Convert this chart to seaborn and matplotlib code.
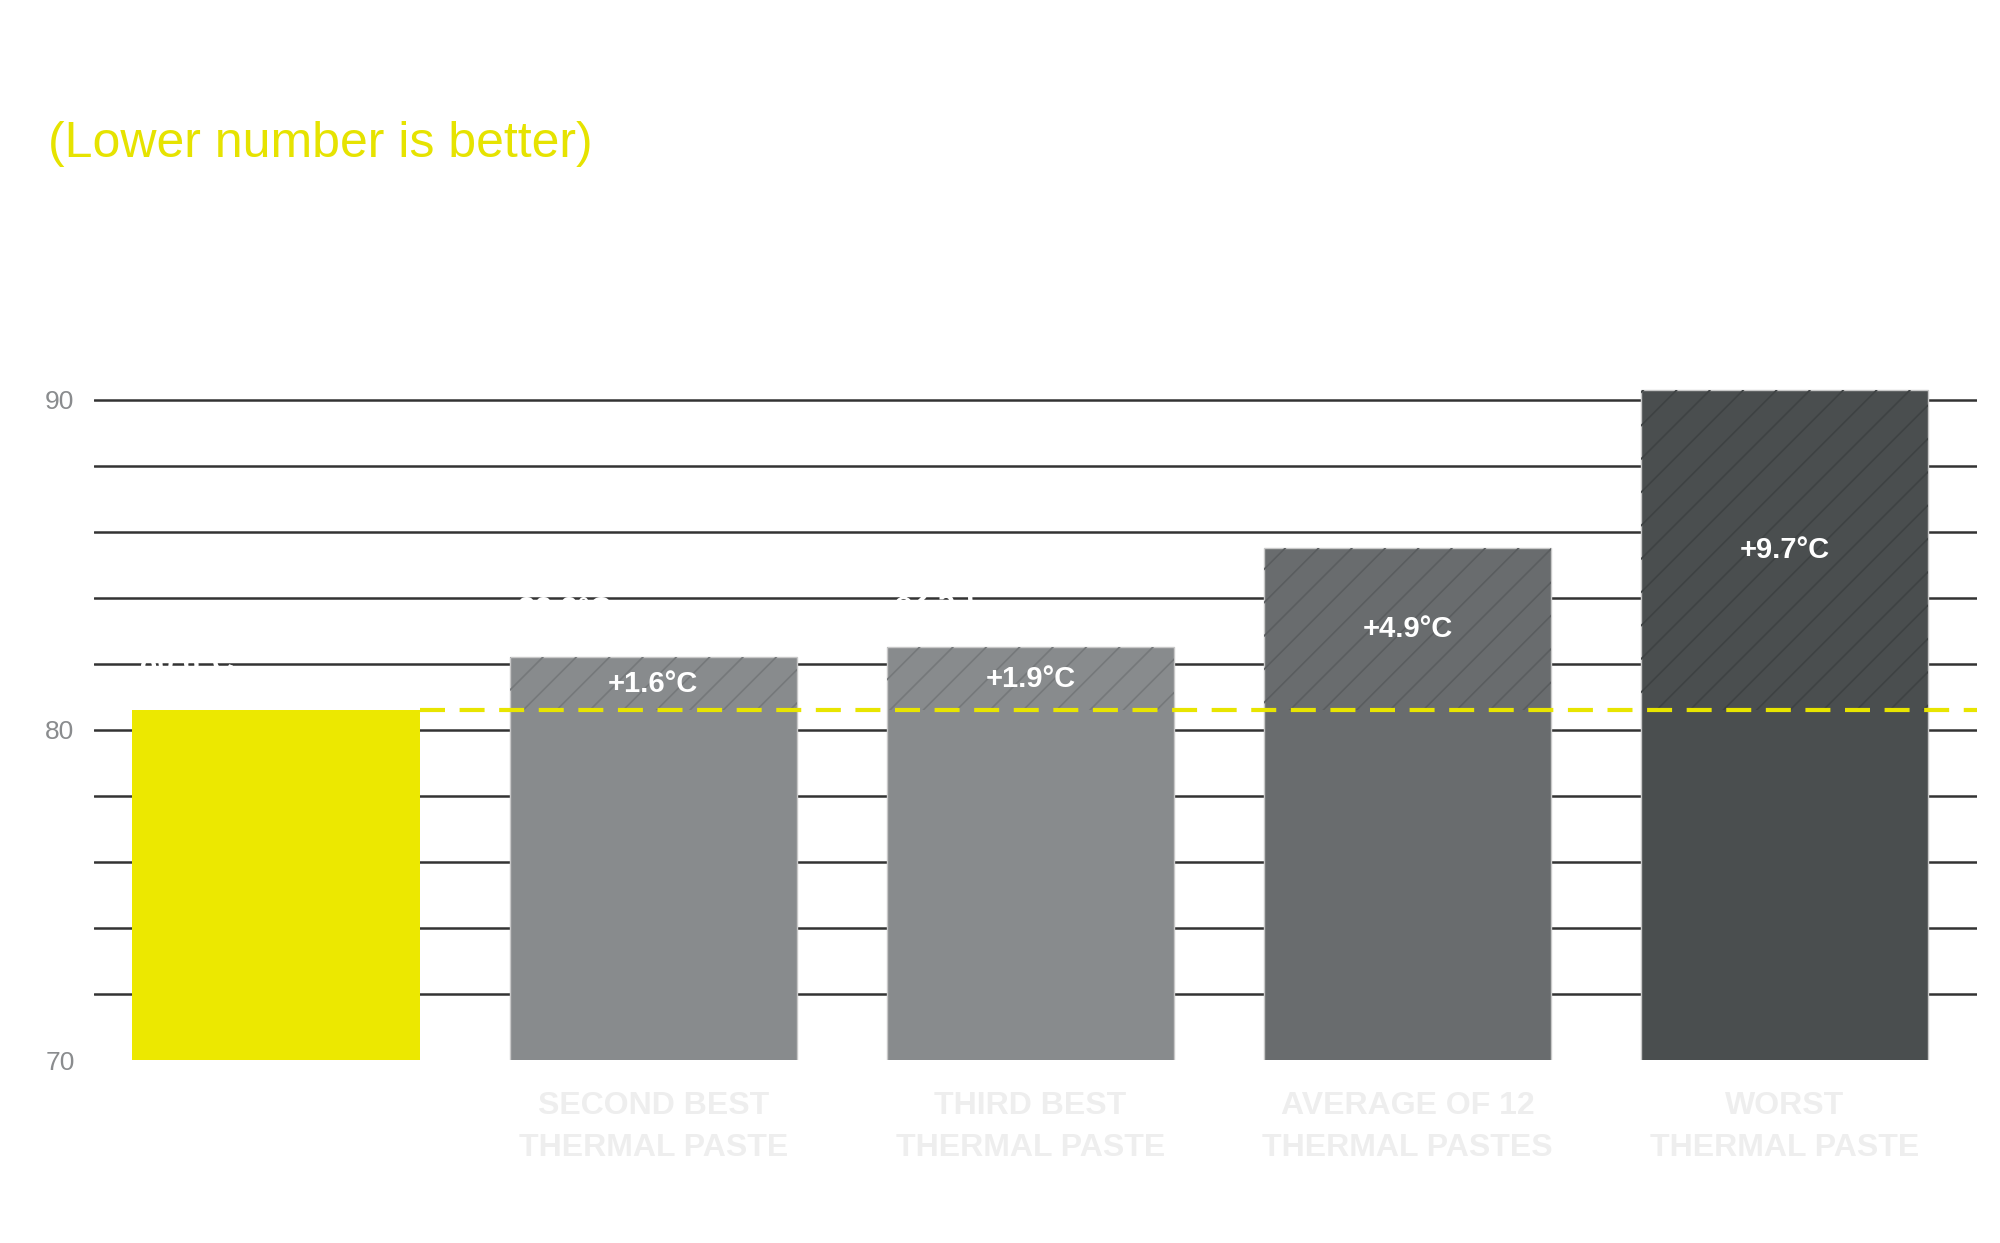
import numpy as np
import pandas as pd
import matplotlib
matplotlib.use("Agg")
import matplotlib.pyplot as plt
import seaborn as sns

# ---- data ----
categories = ["BEST\nTHERMAL PASTE", "SECOND BEST\nTHERMAL PASTE", "THIRD BEST\nTHERMAL PASTE",
              "AVERAGE OF 12\nTHERMAL PASTES", "WORST\nTHERMAL PASTE"]
temps = [80.6, 82.2, 82.5, 85.5, 90.3]
baseline = 80.6
deltas = ["", "+1.6°C", "+1.9°C", "+4.9°C", "+9.7°C"]
value_labels = ["80.6°C", "82.2°C", "82.5°C", "85.5°C", "90.3°C"]
ytick_vals = [70, 80, 90]
ytick_labels = ["70", "80", "90"]
subtitle = "(Lower number is better)"

bar_colors = ["#ECE800", "#888B8D", "#888B8D", "#696C6E", "#4A4E4F"]
hatch_colors = ["#ECE800", "#75787A", "#75787A", "#5A5D5F", "#3E4243"]
label_colors = ["#FFFFFF", "#EEEEEE", "#EEEEEE", "#EEEEEE", "#EEEEEE"]

sns.set_theme(style="white")
plt.rcParams["font.family"] = ["Liberation Sans", "DejaVu Sans"]
plt.rcParams["hatch.linewidth"] = 0.6

fig = plt.figure(figsize=(10, 6.215), dpi=200)
ax = fig.add_axes([0.047, 0.147, 0.9415, 0.558])

df = pd.DataFrame({"cat": categories, "temp": temps})
sns.barplot(data=df, x="cat", y="temp", hue="cat", palette=bar_colors,
            legend=False, width=0.762, saturation=1, ax=ax, zorder=3,
            bottom=0)

# gray bars get a faint light edge
for i, p in enumerate(ax.patches):
    if i > 0:
        p.set_edgecolor("#C8C8C8")
        p.set_linewidth(0.5)
    else:
        p.set_linewidth(0)

ax.set_ylim(70, 91)
ax.set_xlim(-0.483, 4.51)

# hatched overlay for the difference above the best result
x = np.arange(len(categories))
diff = [t - baseline for t in temps]
for i in range(1, len(categories)):
    ax.bar(x[i], diff[i], bottom=baseline, width=0.762, fill=False,
           hatch="//", edgecolor=hatch_colors[i], linewidth=0, zorder=4)
    ax.text(x[i], baseline + diff[i] / 2, deltas[i], ha="center", va="center",
            color="white", fontsize=10.5, fontweight="bold", zorder=6)

# white value labels above bars (left aligned at the bar edge)
for i in range(len(categories)):
    ax.text(x[i] - 0.36, temps[i] + 1.4, value_labels[i], ha="left", va="center",
            color="white", fontsize=11, fontweight="bold", zorder=6)

# dashed yellow reference line
ax.plot([x[0] + 0.381, 4.51], [baseline, baseline], color="#E8E500",
        lw=1.5, dashes=(6, 3.5), zorder=5)

# gridlines
ax.set_yticks(ytick_vals)
ax.set_yticklabels(ytick_labels)
ax.set_yticks(np.arange(72, 91, 2), minor=True)
ax.yaxis.remove_overlapping_locs = False
ax.grid(False)
ax.yaxis.grid(True, which="minor", color="#333333", lw=0.9, zorder=0)
ax.set_axisbelow(True)

for s in ax.spines.values():
    s.set_visible(False)

ax.tick_params(axis="y", which="both", length=0, pad=7, labelsize=9.5, labelcolor="#8A8C8E")
ax.tick_params(axis="x", length=0, pad=11)
ax.set_xticks(x)
ax.set_xticklabels(categories, fontsize=11.5, fontweight="bold", linespacing=1.55)
for lbl, c in zip(ax.get_xticklabels(), label_colors):
    lbl.set_color(c)
ax.set_xlabel("")
ax.set_ylabel("")

fig.text(0.024, 0.874, subtitle, color="#E6E300", fontsize=18, ha="left", va="baseline")

fig.savefig("out.png", dpi=200, facecolor="white")
